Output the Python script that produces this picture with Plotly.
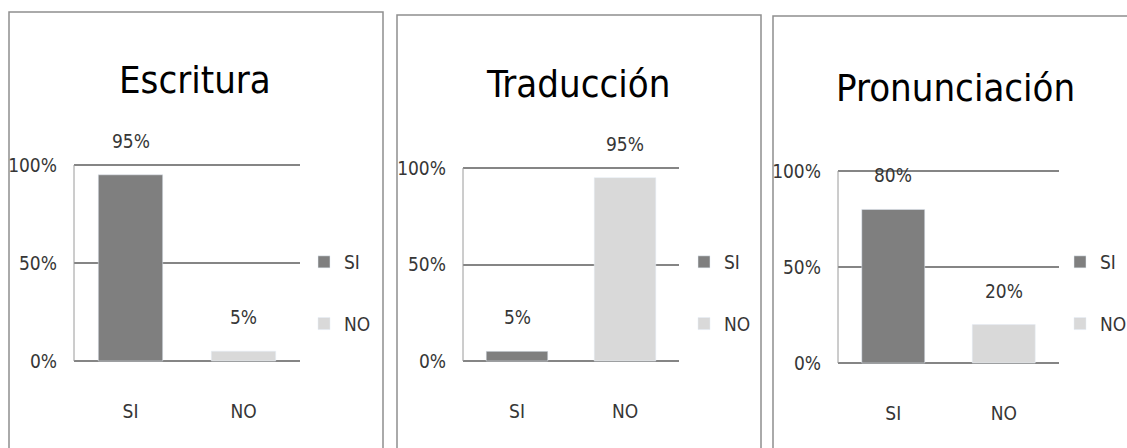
import plotly.graph_objects as go

categories = ["SI", "NO"]
titles = ["Escritura", "Traducción", "Pronunciación"]
si_values = [95, 5, 80]
no_values = [5, 95, 20]
tick_vals = [0, 50, 100]
tick_text = ["0%", "50%", "100%"]

W, H = 1127, 448
FONT = "DejaVu Sans Condensed, Liberation Sans Narrow, Liberation Sans, sans-serif"
SI_COLOR = "#7f7f7f"
NO_COLOR = "#d9d9d9"
GRID = "#858585"
Y_RANGE = [-2, 102]

# layout geometry in pixels: value 0 / value 100 positions per panel
x_dom_px = [(74, 300), (463, 679), (838, 1059)]
y_px = [(361, 165), (361, 168), (363, 171)]
title_pos = [(195, 80), (578, 84), (955, 88)]
legend_left = [304, 684, 1060]
borders = [(9, 12, 383, 460), (397, 15, 761, 460), (773, 16, 1140, 460)]

fig = go.Figure()
annotations = []
shapes = []

for i in range(3):
    n = "" if i == 0 else str(i + 1)
    xa, ya = "x" + n, "y" + n
    lg = "legend" + n
    fig.add_trace(go.Bar(x=[categories[0]], y=[si_values[i]], name=categories[0],
                         marker_color=SI_COLOR, width=0.57, xaxis=xa, yaxis=ya,
                         legend=lg, legendgroup=f"si{i}"))
    fig.add_trace(go.Bar(x=[categories[1]], y=[no_values[i]], name=categories[1],
                         marker_color=NO_COLOR, width=0.57, xaxis=xa, yaxis=ya,
                         legend=lg, legendgroup=f"no{i}"))
    for cat, v in zip(categories, [si_values[i], no_values[i]]):
        annotations.append(dict(x=cat, y=v, xref=xa, yref=ya, text=f"{v}%",
                                showarrow=False, yanchor="bottom", yshift=21,
                                font=dict(family=FONT, size=19, color="#363636")))
    tx, ty = title_pos[i]
    annotations.append(dict(x=tx / W, y=1 - ty / H, xref="paper", yref="paper",
                            text=titles[i], showarrow=False, xanchor="center", yanchor="middle",
                            font=dict(family=FONT, size=38, color="#000000")))
    x0, x1 = x_dom_px[i]
    p0, p100 = y_px[i]
    ppu = (p0 - p100) / 100.0
    top_px = p0 - (Y_RANGE[1]) * ppu
    bot_px = p0 - (Y_RANGE[0]) * ppu
    fig.update_layout(**{
        "xaxis" + n: dict(domain=[x0 / W, x1 / W], anchor=ya, categoryorder="array",
                          categoryarray=categories, showgrid=False, zeroline=False,
                          showline=False, ticklabelstandoff=33, automargin=False,
                          tickfont=dict(family=FONT, size=19, color="#363636")),
        "yaxis" + n: dict(domain=[1 - bot_px / H, 1 - top_px / H], anchor=xa, range=Y_RANGE,
                          tickvals=tick_vals, ticktext=tick_text, showgrid=True,
                          gridcolor=GRID, gridwidth=1.5, zeroline=False,
                          showline=False, ticklabelstandoff=16, automargin=False,
                          tickfont=dict(family=FONT, size=19, color="#363636")),
        lg: dict(x=legend_left[i] / W, y=1 - 243 / H, xanchor="left", yanchor="top",
                 traceorder="grouped", tracegroupgap=34, itemwidth=30,
                 bgcolor="rgba(0,0,0,0)",
                 font=dict(family=FONT, size=19, color="#363636")),
    })
    # vertical value axis line from 0 to 100
    shapes.append(dict(type="line", xref=xa + " domain", yref=ya,
                       x0=0, x1=0, y0=tick_vals[0], y1=tick_vals[-1],
                       line=dict(color="#9a9a9a", width=1)))
    bx0, by0, bx1, by1 = borders[i]
    shapes.append(dict(type="rect", xref="paper", yref="paper",
                       x0=bx0 / W, x1=bx1 / W, y0=1 - by1 / H, y1=1 - by0 / H,
                       line=dict(color="#8f8f8f", width=1.5), layer="below"))

fig.update_layout(width=W, height=H, margin=dict(l=0, r=0, t=0, b=0, autoexpand=False),
                  paper_bgcolor="white", plot_bgcolor="white",
                  barmode="overlay", showlegend=True,
                  annotations=annotations, shapes=shapes)

fig.write_html("out.html")
